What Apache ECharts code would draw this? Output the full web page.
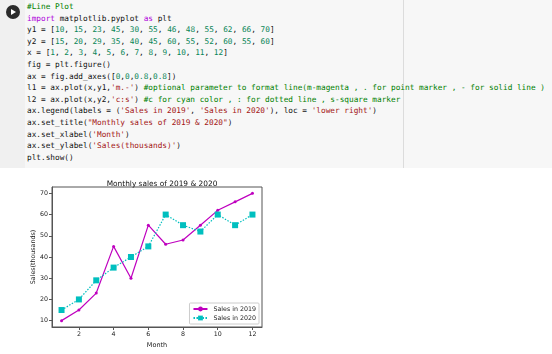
<!DOCTYPE html>
<html>
<head>
<meta charset="utf-8">
<script src="https://cdn.jsdelivr.net/npm/echarts@6/dist/echarts.min.js"></script>
<style>
  html, body { margin: 0; padding: 0; background: #fff; }
  #page { position: relative; width: 552px; height: 354px; overflow: hidden; }
  #cell { position: absolute; left: 0; top: 0; width: 552px; height: 168px; background: #f7f7f7; }
  #gutter { position: absolute; left: 0; top: 0; width: 25px; height: 168px; background: #f0f0f0; }
  #run { position: absolute; left: 5.5px; top: 5px; width: 14px; height: 14px; border-radius: 50%; background: #2b2b2b; }
  #run:after { content: ''; position: absolute; left: 5.5px; top: 4px; border-left: 5px solid #fff; border-top: 3px solid transparent; border-bottom: 3px solid transparent; }
  #ruler { position: absolute; left: 403px; top: 0; width: 1px; height: 168px; background: #dcdcdc; }
  #code { position: absolute; left: 27px; top: 1px; margin: 0; font-family: "DejaVu Sans Mono", monospace; font-size: 7.75px; line-height: 11.6px; color: #111; white-space: pre; }
  .k { color: #af00db; } .s { color: #a31515; } .n { color: #098658; } .c { color: #008000; }
  #main { position: absolute; left: 0; top: 168px; width: 552px; height: 186px; }
</style>
</head>
<body>
<div id="page">
  <div id="cell"><div id="gutter"></div><div id="run"></div><div id="ruler"></div>
<pre id="code"><span class="c">#Line Plot</span>
<span class="k">import</span> matplotlib.pyplot <span class="k">as</span> plt
y1 = [<span class="n">10</span>, <span class="n">15</span>, <span class="n">23</span>, <span class="n">45</span>, <span class="n">30</span>, <span class="n">55</span>, <span class="n">46</span>, <span class="n">48</span>, <span class="n">55</span>, <span class="n">62</span>, <span class="n">66</span>, <span class="n">70</span>]
y2 = [<span class="n">15</span>, <span class="n">20</span>, <span class="n">29</span>, <span class="n">35</span>, <span class="n">40</span>, <span class="n">45</span>, <span class="n">60</span>, <span class="n">55</span>, <span class="n">52</span>, <span class="n">60</span>, <span class="n">55</span>, <span class="n">60</span>]
x = [<span class="n">1</span>, <span class="n">2</span>, <span class="n">3</span>, <span class="n">4</span>, <span class="n">5</span>, <span class="n">6</span>, <span class="n">7</span>, <span class="n">8</span>, <span class="n">9</span>, <span class="n">10</span>, <span class="n">11</span>, <span class="n">12</span>]
fig = plt.figure()
ax = fig.add_axes([<span class="n">0</span>,<span class="n">0</span>,<span class="n">0.8</span>,<span class="n">0.8</span>])
l1 = ax.plot(x,y1,<span class="s">'m.-'</span>) <span class="c">#optional parameter to format line(m-magenta , . for point marker , - for solid line )</span>
l2 = ax.plot(x,y2,<span class="s">'c:s'</span>) <span class="c">#c for cyan color , : for dotted line , s-square marker</span>
ax.legend(labels = (<span class="s">'Sales in 2019'</span>, <span class="s">'Sales in 2020'</span>), loc = <span class="s">'lower right'</span>)
ax.set_title(<span class="s">"Monthly sales of 2019 &amp; 2020"</span>)
ax.set_xlabel(<span class="s">'Month'</span>)
ax.set_ylabel(<span class="s">'Sales(thousands)'</span>)
plt.show()</pre>
  </div>
  <div id="main"></div>
</div>
<script>
const months = [1, 2, 3, 4, 5, 6, 7, 8, 9, 10, 11, 12];
const sales2019 = [10, 15, 23, 45, 30, 55, 46, 48, 55, 62, 66, 70];
const sales2020 = [15, 20, 29, 35, 40, 45, 60, 55, 52, 60, 55, 60];
const xTicks = [2, 4, 6, 8, 10, 12];
const yTicks = [10, 20, 30, 40, 50, 60, 70];

const chart = echarts.init(document.getElementById('main'));
const font = 'DejaVu Sans';
const axisCommon = {
  axisLine: { show: true, onZero: false, lineStyle: { color: '#555', width: 1 } },
  axisTick: { show: true, inside: false, length: 3, lineStyle: { color: '#555' } },
  axisLabel: { color: '#222', fontSize: 6.3, fontFamily: font, margin: 4 },
  splitLine: { show: false }
};

chart.setOption({
  animation: false,
  title: {
    text: 'Monthly sales of 2019 & 2020',
    left: 157, top: 8, textAlign: 'center',
    textStyle: { fontSize: 7.4, fontWeight: 'normal', color: '#111', fontFamily: font }
  },
  grid: { left: 52, right: 290, top: 19, bottom: 27, show: true, borderColor: '#555', borderWidth: 1 },
  legend: {
    orient: 'vertical', right: 293, bottom: 30,
    itemWidth: 14, itemHeight: 6, itemGap: 3,
    padding: [3, 3, 3, 3],
    borderColor: '#ccc', borderWidth: 1, borderRadius: 1,
    backgroundColor: '#fff',
    textStyle: { fontSize: 6.3, fontFamily: font, color: '#222', padding: [0, 0, 0, 1] },
    data: ['Sales in 2019', 'Sales in 2020']
  },
  xAxis: Object.assign({}, axisCommon, {
    type: 'value', min: 0.45, max: 12.55,
    name: 'Month', nameLocation: 'middle', nameGap: 13,
    nameTextStyle: { fontSize: 6.5, fontFamily: font, color: '#222' },
    axisTick: Object.assign({}, axisCommon.axisTick, { customValues: xTicks }),
    axisLabel: Object.assign({}, axisCommon.axisLabel, { customValues: xTicks })
  }),
  yAxis: Object.assign({}, axisCommon, {
    type: 'value', min: 7, max: 73,
    name: 'Sales(thousands)', nameLocation: 'middle', nameGap: 14,
    nameTextStyle: { fontSize: 6.3, fontFamily: font, color: '#222' },
    axisTick: Object.assign({}, axisCommon.axisTick, { customValues: yTicks }),
    axisLabel: Object.assign({}, axisCommon.axisLabel, { customValues: yTicks })
  }),
  series: [
    {
      name: 'Sales in 2019', type: 'line',
      data: months.map((m, i) => [m, sales2019[i]]),
      color: '#bf00bf',
      lineStyle: { width: 1.2, color: '#bf00bf' },
      symbol: 'circle', symbolSize: 3,
      itemStyle: { color: '#bf00bf' }
    },
    {
      name: 'Sales in 2020', type: 'line',
      data: months.map((m, i) => [m, sales2020[i]]),
      color: '#00bfbf',
      lineStyle: { width: 1.2, type: [1.5, 1.5], color: '#00bfbf' },
      symbol: 'rect', symbolSize: 6,
      itemStyle: { color: '#00bfbf' }
    }
  ]
});
</script>
</body>
</html>
